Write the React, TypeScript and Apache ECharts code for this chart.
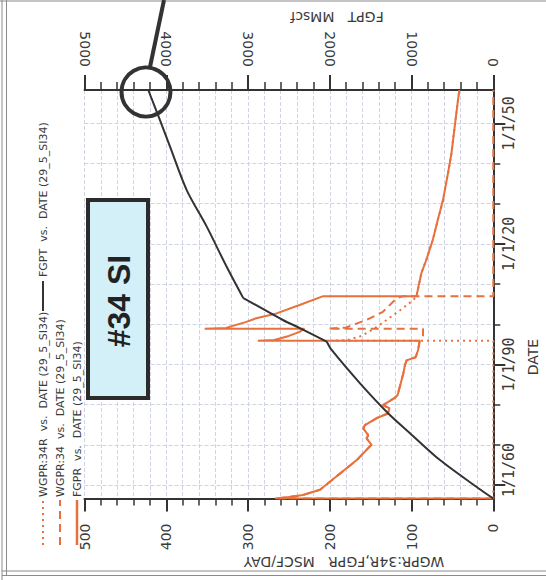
import { useEffect, useRef } from 'react';
import * as echarts from 'echarts';

// ---------- data (year, value) ----------
const START_YEAR = 1956.64;
const END_YEAR = 2058.3;

const dateTickYears = [1960, 1970, 1980, 1990, 2000, 2010, 2020, 2030, 2040, 2050];
const dateLabelYears = [1960, 1990, 2020, 2050];

// FGPR  (MSCF/DAY)
const fgprEarly: [number, number][] = [
  [1956.64, 0], [1956.64, 267], [1957.0, 250], [1957.5, 233], [1958.8, 212], [1962.1, 192],
  [1966.2, 167], [1970.0, 149], [1971.6, 155], [1972.4, 153], [1974.1, 159], [1974.9, 157],
  [1976.6, 143], [1977.8, 129], [1979.1, 127], [1979.9, 135], [1981.6, 121], [1982.4, 117],
  [1987.8, 110], [1989.9, 108], [1991.0, 106], [1991.8, 95], [1993.6, 92], [1995.9, 90],
];
const fgprMiddle: [number, number][] = [
  [1995.9, 288], [1996.1, 268], [1997.1, 250], [1998.1, 237], [1998.9, 231], [1998.9, 353],
  [1999.1, 327], [2000.6, 302], [2001.5, 290], [2002.7, 265], [2004.8, 237], [2007.0, 208],
];
const fgprLate: [number, number][] = [
  [2007.0, 94], [2012.7, 88], [2016.0, 82], [2021.0, 74], [2025.9, 68], [2030.9, 61.5],
  [2037.6, 55.4], [2042.5, 51.2], [2049.2, 47.2], [2055.8, 43.2], [2058.3, 41.5],
];

// WGPR:34 (dashed) after the second well came on
const wgpr34After: [number, number][] = [
  [1995.9, 90], [1996.7, 86], [1998.9, 86], [1998.9, 202], [1999.2, 180], [2001.1, 155],
  [2003.1, 135], [2006.5, 118], [2007.0, 110], [2007.0, 0], [2058.3, 0],
];

// WGPR:34R (dotted)
const wgpr34rEarly: [number, number][] = [
  [1956.64, 0], [1995.9, 0], [1995.9, 198], [1996.1, 178], [1997.1, 161], [1998.9, 146],
  [2001.0, 131], [2003.5, 114], [2006.0, 98], [2007.0, 94],
];

// FGPT (MMscf): three segments between the rate changes
const fgptEarly: [number, number][] = [
  [1956.64, 0], [1959.2, 183], [1966.2, 652], [1972.9, 1019], [1977.8, 1284], [1985.3, 1630],
  [1993.6, 1977], [1995.7, 2038],
];
const fgptMiddle: [number, number][] = [
  [1999.0, 2360], [2001.0, 2568], [2005.6, 2975], [2006.5, 3058],
];
const fgptLate: [number, number][] = [
  [2014.3, 3261], [2024.3, 3505], [2033.4, 3750], [2044.2, 3954], [2050.8, 4077], [2058.3, 4220],
];

const legendNames = [
  'WGPR:34R  vs.  DATE (29_5_SI34)',
  'WGPR:34  vs.  DATE (29_5_SI34)',
  'FGPR  vs.  DATE (29_5_SI34)',
  'FGPT  vs.  DATE (29_5_SI34)',
];

// ---------- styling ----------
const ORANGE = '#e8703c';
const DARK = '#333333';
const GRID = '#cfd3e2';
const LABEL = '#3a3a3a';
const FRAME = '#8a8a8a';

const toXY = (arr: [number, number][]) => arr.map(([yr, v]) => [v, yr]);

function buildOption() {
  const fgprAll = [...fgprEarly, ...fgprMiddle, ...fgprLate];
  const wgpr34All = [...fgprEarly, ...wgpr34After];
  const wgpr34rAll = [...wgpr34rEarly, ...fgprLate];

  const dateFmt = (v: number) => {
    const t = '1/1/' + String(Math.round(v) % 100).padStart(2, '0');
    return Math.round(v) === 1960 ? '{s|' + t + '}' : '{n|' + t + '}';
  };
  const dateFont = { fontFamily: 'DejaVu Sans Mono', fontSize: 15, color: LABEL };

  const rateAxisBase = {
    type: 'value',
    inverse: true,
    axisLine: { show: true, onZero: false, lineStyle: { color: DARK, width: 2 } },
    axisLabel: {
      rotate: 90, fontSize: 14, fontFamily: 'DejaVu Sans', color: LABEL,
      formatter: (v: number) => String(v),
    },
  };

  const txt = (x: number, y: number, rotation: number, text: string, font: string, fill: string, align: string) => ({
    type: 'text', x, y, rotation, z: 60,
    style: { text, font, fill, align, textAlign: align, verticalAlign: 'middle', textVerticalAlign: 'middle' },
  });
  const seg = (x1: number, y1: number, x2: number, y2: number, stroke: string, lineWidth: number, lineDash?: number[]) => ({
    type: 'line', z: 60, shape: { x1, y1, x2, y2 },
    style: { stroke, lineWidth, lineDash: lineDash || null },
  });
  const fgptSeries = (name: string, data: [number, number][]) => ({
    name, type: 'line', xAxisIndex: 1, yAxisIndex: 0, data: toXY(data),
    showSymbol: false, symbol: 'none', smooth: 0.3,
    lineStyle: { color: DARK, width: 2 },
  });

  return {
    animation: false,
    backgroundColor: '#ffffff',
    grid: { left: 84.5, right: 52.7, top: 90, bottom: 81.5 },
    xAxis: [
      {
        ...rateAxisBase,
        position: 'bottom',
        min: 0, max: 500, interval: 100,
        axisTick: { show: true, length: 13, lineStyle: { color: DARK, width: 2 } },
        minorTick: { show: true, splitNumber: 5, length: 7, lineStyle: { color: DARK, width: 1.5 } },
        axisLabel: { ...rateAxisBase.axisLabel, margin: 25 },
        splitLine: { show: true, lineStyle: { color: GRID, type: [4, 2], width: 1 } },
        minorSplitLine: { show: true, lineStyle: { color: GRID, type: [4, 2], width: 1 } },
      },
      {
        ...rateAxisBase,
        position: 'top',
        min: 0, max: 5000, interval: 1000,
        axisTick: { show: true, length: 15, lineStyle: { color: DARK, width: 2 } },
        minorTick: { show: true, splitNumber: 5, length: 8, lineStyle: { color: DARK, width: 1.5 } },
        axisLabel: { ...rateAxisBase.axisLabel, margin: 23 },
        splitLine: { show: false },
      },
    ],
    yAxis: [
      {
        type: 'value',
        position: 'right',
        min: START_YEAR, max: END_YEAR,
        axisLine: { show: true, onZero: false, lineStyle: { color: DARK, width: 2 } },
        axisTick: { show: true, customValues: dateLabelYears, length: 12, lineStyle: { color: DARK, width: 2 } },
        axisLabel: {
          customValues: dateLabelYears, rotate: 90, margin: 8, formatter: dateFmt,
          rich: { s: { ...dateFont, padding: [0, 0, 0, 30] }, n: { ...dateFont } },
          ...dateFont,
        },
        splitLine: { show: false },
      },
      {
        type: 'value',
        position: 'right',
        min: START_YEAR, max: END_YEAR,
        axisLine: { show: false, onZero: false },
        axisTick: { show: true, customValues: dateTickYears, length: 7, lineStyle: { color: DARK, width: 1.5 } },
        axisLabel: { show: false },
        splitLine: { show: true, lineStyle: { color: GRID, type: [4, 2], width: 1 } },
      },
    ],
    series: [
      {
        name: legendNames[0], type: 'line', xAxisIndex: 0, yAxisIndex: 0, data: toXY(wgpr34rAll),
        showSymbol: false, symbol: 'none', lineStyle: { color: ORANGE, width: 2, type: [2, 4] },
      },
      {
        name: legendNames[1], type: 'line', xAxisIndex: 0, yAxisIndex: 0, data: toXY(wgpr34All),
        showSymbol: false, symbol: 'none', lineStyle: { color: ORANGE, width: 2, type: [8, 5] },
      },
      {
        name: legendNames[2], type: 'line', xAxisIndex: 0, yAxisIndex: 0, data: toXY(fgprAll),
        showSymbol: false, symbol: 'none', lineStyle: { color: ORANGE, width: 2 },
      },
      fgptSeries(legendNames[3], fgptEarly),
      fgptSeries(legendNames[3], [fgptEarly[fgptEarly.length - 1], ...fgptMiddle]),
      fgptSeries(legendNames[3], [fgptMiddle[fgptMiddle.length - 1], ...fgptLate]),
    ],
    graphic: [
      // outer frame
      seg(2, 0, 2, 580, FRAME, 1),
      seg(6.5, 0, 6.5, 575.5, FRAME, 1),
      seg(0, 1, 546, 1, FRAME, 1),
      seg(2, 571, 546, 571, FRAME, 1),
      seg(2, 575.5, 546, 575.5, FRAME, 1),
      // axis titles
      txt(337, 16.5, Math.PI, 'FGPT   MMscf', '14px "DejaVu Sans"', LABEL, 'center'),
      txt(344, 562, Math.PI, 'WGPR:34R,FGPR   MSCF/DAY', '14px "DejaVu Sans"', LABEL, 'center'),
      txt(533, 357, Math.PI / 2, 'DATE', '14px "DejaVu Sans"', LABEL, 'center'),
      // legend
      seg(43, 545, 43, 500, ORANGE, 2, [2, 4]),
      txt(43, 497, Math.PI / 2, legendNames[0], '11px "DejaVu Sans"', LABEL, 'left'),
      seg(43, 311, 43, 281, DARK, 2),
      txt(43, 277, Math.PI / 2, legendNames[3], '11px "DejaVu Sans"', LABEL, 'left'),
      seg(60, 545, 60, 500, ORANGE, 2, [8, 5]),
      txt(60, 497, Math.PI / 2, legendNames[1], '11px "DejaVu Sans"', LABEL, 'left'),
      seg(77, 545, 77, 500, ORANGE, 2.5),
      txt(77, 497, Math.PI / 2, legendNames[2], '11px "DejaVu Sans"', LABEL, 'left'),
      // annotation box
      {
        type: 'rect', z: 60, shape: { x: 88, y: 200, width: 60, height: 198 },
        style: { fill: '#d3f0f8', stroke: '#2b2b2b', lineWidth: 4 },
      },
      txt(119, 301, Math.PI / 2, '#34 SI', 'bold 32px "Liberation Sans"', '#222222', 'center'),
      // highlight circle and pointer
      {
        type: 'circle', z: 60, shape: { cx: 146, cy: 92, r: 24.5 },
        style: { fill: 'none', stroke: '#333333', lineWidth: 4 },
      },
      seg(150, 67, 164, 0, '#333333', 4),
    ],
  };
}

export default function App() {
  const ref = useRef<HTMLDivElement>(null);
  useEffect(() => {
    if (!ref.current) return;
    const chart = echarts.init(ref.current, null, { renderer: 'svg' });
    chart.setOption(buildOption() as any);
    return () => chart.dispose();
  }, []);
  return (
    <div
      ref={ref}
      style={{ position: 'fixed', left: 0, top: 0, width: 546, height: 580, background: '#ffffff' }}
    />
  );
}
